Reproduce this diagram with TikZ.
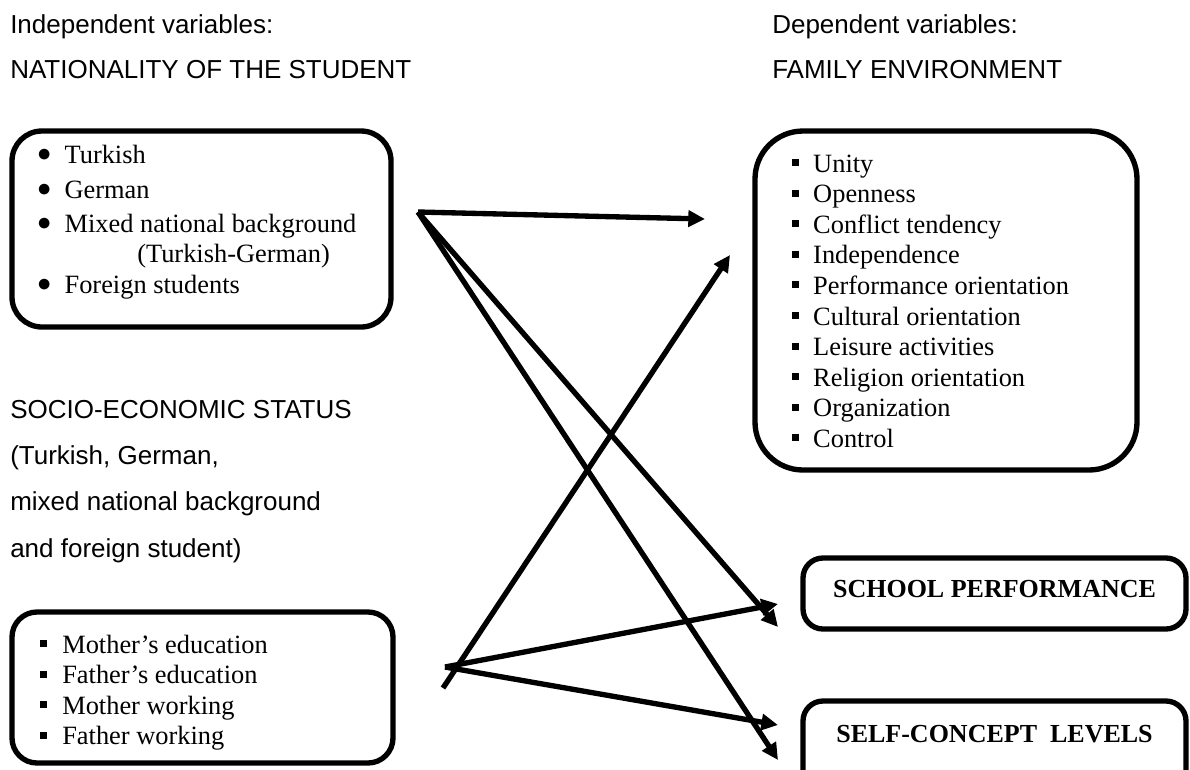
\documentclass[tikz,border=0pt]{standalone}
\usepackage{fontspec}
\setmainfont{Liberation Serif}
\newfontfamily\sansf{Liberation Sans}
\usetikzlibrary{arrows.meta}
\newcommand\rbul{\makebox[20.5pt][l]{\raisebox{1pt}{$\bullet$}}}
\newcommand\sqbul[1]{\makebox[#1][l]{\rule[4.5pt]{5.25pt}{5.25pt}}}
\tikzset{
  box/.style={draw, line width=4pt, rounded corners=#1, inner sep=0pt},
  lbl/.style={anchor=base west, inner sep=0pt, font=\sansf\fontsize{19.5pt}{23pt}\selectfont},
  item/.style={anchor=base west, inner sep=0pt, font=\fontsize{19.8pt}{23pt}\selectfont},
  outc/.style={anchor=base, inner sep=0pt, font=\bfseries\fontsize{19.5pt}{23pt}\selectfont},
  arr/.style={line width=4pt, -{Triangle[length=12.5pt,width=12pt]}},
}
\begin{document}
\begin{tikzpicture}[x=0.75pt,y=-0.75pt]
\useasboundingbox (0,0) rectangle (1190,769);
% headings
\node[lbl] (iv) at (10,33) {Independent variables:};
\node[lbl] (natt) at (10,78) {NATIONALITY OF THE STUDENT};
\node[lbl] (dv) at (772,33) {Dependent variables:};
\node[lbl] (fet) at (772,78) {FAMILY ENVIRONMENT};
\node[lbl] (ses1) at (10,418) {SOCIO-ECONOMIC STATUS};
\node[lbl] (ses2) at (10,464) {(Turkish, German,};
\node[lbl] (ses3) at (10,510) {mixed national background};
\node[lbl] (ses4) at (10,557) {and foreign student)};
% boxes
\node[box=22.5pt, minimum width=284.25pt, minimum height=147pt] (nat) at (201.5,229) {};
\node[box=36pt, minimum width=286.5pt, minimum height=254.25pt] (fe) at (946,300.5) {};
\node[box=15pt, minimum width=287.25pt, minimum height=53.25pt] (sp) at (994.5,593.5) {};
\node[box=15pt, minimum width=287.25pt, minimum height=66.75pt] (sc) at (994.5,745.5) {};
\node[box=18.75pt, minimum width=285.75pt, minimum height=113.25pt] (ses) at (202.5,687.5) {};
% nationality items
\node[item] (n1) at (37,163) {\rbul Turkish};
\node[item] (n2) at (37,198) {\rbul German};
\node[item] (n3) at (37,232) {\rbul Mixed national background};
\node[item] (n3b) at (137,262) {(Turkish-German)};
\node[item] (n4) at (37,293) {\rbul Foreign students};
% family environment items
\foreach \t [count=\i] in {Unity,Openness,Conflict tendency,Independence,Performance orientation,Cultural orientation,Leisure activities,Religion orientation,Organization,Control}
  \node[item] (fe\i) at (791.5,{172+30.6*(\i-1)}) {\sqbul{16.1pt}\t};
% SES items
\node[item] (m1) at (39.5,653) {\sqbul{16.9pt}Mother’s education};
\node[item] (m2) at (39.5,683.5) {\sqbul{16.9pt}Father’s education};
\node[item] (m3) at (39.5,714) {\sqbul{16.9pt}Mother working};
\node[item] (m4) at (39.5,744.5) {\sqbul{16.9pt}Father working};
% outcomes
\node[outc] (spt) at (994.5,597) {SCHOOL PERFORMANCE};
\node[outc] (sct) at (994.5,742) {SELF-CONCEPT\ \ LEVELS};
% arrows
\coordinate (s1) at (418,212);
\coordinate (s2) at (445,667);
\coordinate (b2) at (443,688);
\coordinate (t1) at (705,219);
\coordinate (t2) at (730,255);
\coordinate (t3) at (778,604);
\coordinate (t4) at (778,627);
\coordinate (t5) at (778,725);
\coordinate (t6) at (778,760);
\draw[arr] (s1) -- (t1);
\draw[arr] (s1) -- (t4);
\draw[arr] (s1) -- (t6);
\draw[arr] (b2) -- (t2);
\draw[arr] (s2) -- (t3);
\draw[arr] (s2) -- (t5);
\end{tikzpicture}
\end{document}
